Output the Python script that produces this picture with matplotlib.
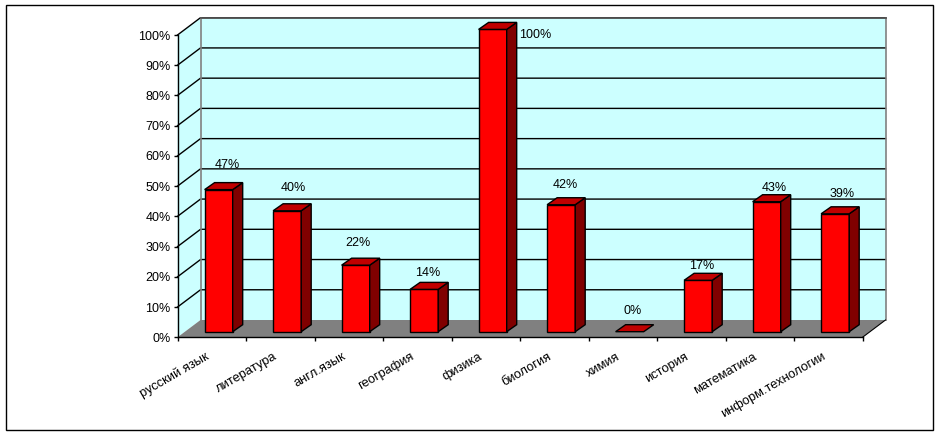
import matplotlib
matplotlib.use('Agg')
import matplotlib.pyplot as plt
from matplotlib.patches import Polygon, Rectangle

plt.rcParams['font.family'] = ['Liberation Sans', 'DejaVu Sans']

subjects = ['русский язык', 'литература', 'англ.язык', 'география', 'физика',
            'биология', 'химия', 'история', 'математика', 'информ.технологии']
percents = [47, 40, 22, 14, 100, 42, 0, 17, 43, 39]
y_ticks = [0, 10, 20, 30, 40, 50, 60, 70, 80, 90, 100]

W, H = 940, 436
# front plane of the 3d box in pixels
left, right, top, bottom = 177.5, 862.5, 35, 337.3

fig = plt.figure(figsize=(W / 100, H / 100), dpi=100, facecolor='white')
fig.add_artist(Rectangle((5.5 / W, 1 - 430 / H), 927.5 / W, 424.5 / H, transform=fig.transFigure,
                         fill=False, edgecolor='black', linewidth=1))

ax = fig.add_axes([left / W, 1 - bottom / H, (right - left) / W, (bottom - top) / H])
ax.set_xlim(-0.5, len(subjects) - 0.5)
ax.set_ylim(0, 100)
ax.patch.set_visible(False)

# oblique depth of the box, in data units
px_x = (len(subjects)) / (right - left)
px_y = 100 / (bottom - top)
dx = 23 * px_x
dy = 17.3 * px_y
bar_width = 0.41


def poly(points, color, edge='none', lw=0.0, z=1):
    ax.add_patch(Polygon(points, closed=True, facecolor=color, edgecolor=edge,
                         linewidth=lw, zorder=z, clip_on=False))


x0, x1 = -0.5, len(subjects) - 0.5

# walls and floor
poly([(x0 + dx, dy), (x1 + dx, dy), (x1 + dx, 100 + dy), (x0 + dx, 100 + dy)], '#ccffff', z=1)
poly([(x0, 0), (x0 + dx, dy), (x0 + dx, 100 + dy), (x0, 100)], '#ccffff', z=1)
poly([(x0, 0), (x1, 0), (x1 + dx, dy), (x0 + dx, dy)], '#808080', z=2)

# grid on back wall and side wall
for t in y_ticks[1:]:
    ax.plot([x0, x0 + dx, x1 + dx], [t, t + dy, t + dy], color='black', lw=1,
            zorder=2, clip_on=False)
ax.plot([x0 + dx, x0 + dx], [dy, 100 + dy], color='#808080', lw=1.2, zorder=2, clip_on=False)
ax.plot([x1 + dx, x1 + dx], [dy, 100 + dy], color='#808080', lw=1.2, zorder=2, clip_on=False)
ax.plot([x0 + dx, x1 + dx], [100 + dy, 100 + dy], color='#555555', lw=1.3,
        zorder=3, clip_on=False)
ax.plot([x1, x1 + dx], [0, dy], color='black', lw=0.8, zorder=3, clip_on=False)

# bars, front face sits a little behind the axis plane
off_x = 6.9 * px_x
off_y = 5.6 * px_y
deep_x = 10 * px_x
deep_y = 7 * px_y
xs = [i + off_x for i in range(len(subjects))]

for i, (x, v) in enumerate(zip(xs, percents)):
    z = 5 + i
    xl, xr = x - bar_width / 2, x + bar_width / 2
    yb, yt = off_y, off_y + v
    if v > 0:
        ax.bar(x, yt - yb, bar_width, bottom=yb, color='#ff0000', edgecolor='black',
               linewidth=1, zorder=z, clip_on=False)
        poly([(xr, yb), (xr + deep_x, yb + deep_y), (xr + deep_x, yt + deep_y), (xr, yt)],
             '#800000', 'black', 1, z)
    poly([(xl, yt), (xr, yt), (xr + deep_x, yt + deep_y), (xl + deep_x, yt + deep_y)],
         '#c00000', 'black', 1, z)

# value labels wander in the original, so each has its own nudge (px)
nudge_x = [9, 6, 2, 4, 43, 4, 3, 4, 8, 7]
nudge_y = [30, 28, 28, 22, 0, 25, 26, 20, 19, 25]
for x, v, nx, ny in zip(xs, percents, nudge_x, nudge_y):
    ax.annotate(f'{v}%', (x, v), xytext=(nx * 0.72, ny * 0.72), textcoords='offset points',
                ha='center', va='center', fontsize=9, color='black', zorder=30,
                annotation_clip=False)

# axes
for s in ['top', 'right']:
    ax.spines[s].set_visible(False)
for s in ['left', 'bottom']:
    ax.spines[s].set_linewidth(1)
    ax.spines[s].set_zorder(4)

ax.set_yticks(y_ticks)
ax.set_yticklabels([f'{t}%' for t in y_ticks], fontsize=9)
ax.tick_params(axis='y', length=3, width=1, pad=2)
ax.set_xticks([i - 0.5 for i in range(len(subjects) + 1)])
ax.set_xticklabels([])
ax.tick_params(axis='x', length=3, width=1)

# slanted category labels, right end hangs under the bar
for i, name in enumerate(subjects):
    ax.annotate(name, (i, 0), xytext=(-5, -9.5), textcoords='offset points',
                rotation=30, rotation_mode='anchor', ha='right', va='top',
                fontsize=9.3, color='black', annotation_clip=False)

fig.savefig('out.png', dpi=100)
